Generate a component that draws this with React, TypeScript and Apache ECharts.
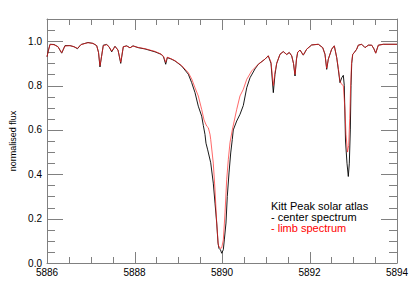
import React, { useEffect, useRef } from "react";
import * as echarts from "echarts";

const centerWavelength = [
  5886.000, 5886.034, 5886.069, 5886.160, 5886.251, 5886.336, 5886.411, 5886.526, 5886.617, 5886.697,
  5886.777, 5886.869, 5886.937, 5887.051, 5887.136, 5887.177, 5887.211, 5887.246, 5887.287, 5887.365,
  5887.417, 5887.479, 5887.554, 5887.623, 5887.685, 5887.744, 5887.822, 5887.897, 5887.966, 5888.080,
  5888.240, 5888.469, 5888.606, 5888.663, 5888.713, 5888.750, 5888.834, 5888.926, 5889.079, 5889.230,
  5889.307, 5889.383, 5889.458, 5889.536, 5889.573, 5889.611, 5889.634, 5889.673, 5889.742, 5889.801,
  5889.840, 5889.879, 5889.909, 5889.931, 5889.966, 5889.993, 5890.030, 5890.053, 5890.091, 5890.121,
  5890.160, 5890.199, 5890.235, 5890.258, 5890.336, 5890.411, 5890.487, 5890.565, 5890.640, 5890.754,
  5890.830, 5890.983, 5891.058, 5891.120, 5891.173, 5891.211, 5891.250, 5891.326, 5891.401, 5891.479,
  5891.538, 5891.593, 5891.634, 5891.669, 5891.703, 5891.730, 5891.783, 5891.858, 5891.936, 5892.050,
  5892.201, 5892.302, 5892.354, 5892.393, 5892.430, 5892.507, 5892.567, 5892.622, 5892.658, 5892.697,
  5892.736, 5892.773, 5892.795, 5892.823, 5892.857, 5892.887, 5892.910, 5892.933, 5892.949, 5892.965,
  5892.987, 5893.024, 5893.079, 5893.115, 5893.193, 5893.269, 5893.344, 5893.422, 5893.474, 5893.513,
  5893.573, 5893.687, 5893.840, 5894.000,
];

const centerFlux = [
  0.93, 0.96, 0.986, 0.985, 0.975, 0.946, 0.98, 0.98, 0.975, 0.966,
  0.985, 0.99, 0.994, 0.99, 0.98, 0.95, 0.884, 0.93, 0.982, 0.985,
  0.975, 0.952, 0.977, 0.96, 0.90, 0.975, 0.979, 0.97, 0.979, 0.971,
  0.965, 0.952, 0.941, 0.93, 0.896, 0.926, 0.92, 0.911, 0.888, 0.851,
  0.813, 0.768, 0.707, 0.662, 0.62, 0.58, 0.54, 0.51, 0.452, 0.36,
  0.27, 0.18, 0.09, 0.066, 0.059, 0.044, 0.06, 0.104, 0.18, 0.30,
  0.406, 0.496, 0.557, 0.60, 0.64, 0.67, 0.71, 0.79, 0.835, 0.875,
  0.896, 0.919, 0.934, 0.90, 0.768, 0.85, 0.90, 0.941, 0.953, 0.94,
  0.949, 0.934, 0.90, 0.843, 0.92, 0.95, 0.96, 0.937, 0.964, 0.983,
  0.986, 0.971, 0.941, 0.873, 0.919, 0.964, 0.979, 0.926, 0.873, 0.813,
  0.835, 0.846, 0.80, 0.55, 0.45, 0.39, 0.45, 0.60, 0.80, 0.90,
  0.94, 0.949, 0.964, 0.982, 0.986, 0.971, 0.982, 0.982, 0.965, 0.946,
  0.982, 0.986, 0.986, 0.986,
];

const limbWavelength = [
  5886.000, 5886.034, 5886.069, 5886.160, 5886.251, 5886.336, 5886.411, 5886.526, 5886.617, 5886.697,
  5886.777, 5886.869, 5886.937, 5887.051, 5887.136, 5887.177, 5887.211, 5887.246, 5887.287, 5887.365,
  5887.417, 5887.479, 5887.554, 5887.623, 5887.685, 5887.744, 5887.822, 5887.897, 5887.966, 5888.080,
  5888.240, 5888.469, 5888.606, 5888.663, 5888.713, 5888.750, 5888.834, 5888.926, 5889.079, 5889.230,
  5889.307, 5889.383, 5889.458, 5889.536, 5889.589, 5889.650, 5889.687, 5889.726, 5889.742, 5889.801,
  5889.840, 5889.879, 5889.915, 5889.954, 5889.993, 5890.030, 5890.069, 5890.107, 5890.144, 5890.183,
  5890.235, 5890.336, 5890.411, 5890.487, 5890.565, 5890.679, 5890.830, 5890.983, 5891.058, 5891.120,
  5891.173, 5891.211, 5891.250, 5891.326, 5891.401, 5891.479, 5891.538, 5891.593, 5891.634, 5891.669,
  5891.703, 5891.730, 5891.783, 5891.858, 5891.936, 5892.050, 5892.201, 5892.302, 5892.354, 5892.393,
  5892.430, 5892.507, 5892.567, 5892.622, 5892.658, 5892.697, 5892.736, 5892.773, 5892.811, 5892.834,
  5892.869, 5892.896, 5892.919, 5892.937, 5892.960, 5892.987, 5893.024, 5893.079, 5893.115, 5893.193,
  5893.269, 5893.344, 5893.422, 5893.474, 5893.513, 5893.573, 5893.687, 5893.840, 5894.000,
];

const limbFlux = [
  0.93, 0.96, 0.985, 0.984, 0.975, 0.948, 0.978, 0.98, 0.975, 0.968,
  0.984, 0.99, 0.993, 0.99, 0.98, 0.95, 0.89, 0.93, 0.98, 0.984,
  0.975, 0.955, 0.976, 0.96, 0.905, 0.975, 0.978, 0.97, 0.978, 0.972,
  0.966, 0.954, 0.942, 0.932, 0.905, 0.928, 0.921, 0.912, 0.89, 0.858,
  0.83, 0.79, 0.753, 0.692, 0.645, 0.617, 0.61, 0.58, 0.557, 0.45,
  0.33, 0.18, 0.081, 0.066, 0.068, 0.104, 0.226, 0.375, 0.466, 0.543,
  0.60, 0.692, 0.753, 0.783, 0.828, 0.866, 0.896, 0.919, 0.934, 0.905,
  0.80, 0.86, 0.90, 0.941, 0.953, 0.94, 0.949, 0.934, 0.90, 0.85,
  0.92, 0.95, 0.96, 0.938, 0.964, 0.983, 0.986, 0.971, 0.941, 0.878,
  0.919, 0.964, 0.979, 0.926, 0.88, 0.82, 0.805, 0.80, 0.69, 0.58,
  0.50, 0.53, 0.65, 0.78, 0.90, 0.94, 0.949, 0.964, 0.982, 0.986,
  0.971, 0.982, 0.982, 0.965, 0.946, 0.982, 0.986, 0.986, 0.986,
];

const xMin = 5886;
const xMax = 5894;
const xMajor = 2;
const yMin = 0;
const yMax = 1.1;
const yMajor = 0.2;

// tick values (inward ticks on all four sides)
const xMajorTicks = [5888, 5890, 5892];
const xMinorTicks = [5886.5, 5887, 5887.5, 5888.5, 5889, 5889.5, 5890.5, 5891, 5891.5, 5892.5, 5893, 5893.5];
const yMajorTicks = [0.2, 0.4, 0.6, 0.8, 1.0];
const yMinorTicks = [0.05, 0.1, 0.15, 0.25, 0.3, 0.35, 0.45, 0.5, 0.55, 0.65, 0.7, 0.75, 0.85, 0.9, 0.95, 1.05];

const legendLines = ["Kitt Peak solar atlas", "- center spectrum", "- limb spectrum"];

const AXIS_COLOR = "#808080";
const FONT = "'Liberation Sans', Arial, sans-serif";

function pairs(xs: number[], ys: number[]) {
  const n = Math.min(xs.length, ys.length);
  const out: number[][] = [];
  for (let i = 0; i < n; i++) out.push([xs[i], ys[i]]);
  return out;
}

function tickSeries(values: number[], dir: "x" | "y", len: number) {
  return {
    type: "custom",
    xAxisIndex: 0,
    yAxisIndex: 0,
    silent: true,
    clip: false,
    z: 3,
    data: values.map((v) => (dir === "x" ? [v, yMin] : [xMin, v])),
    renderItem: (_params: any, api: any) => {
      const style = { stroke: AXIS_COLOR, lineWidth: 1, fill: null };
      if (dir === "x") {
        const v = api.value(0);
        const b = api.coord([v, yMin]);
        const t = api.coord([v, yMax]);
        const x = Math.round(b[0]) + 0.5;
        return {
          type: "group",
          children: [
            { type: "line", shape: { x1: x, y1: b[1], x2: x, y2: b[1] - len }, style },
            { type: "line", shape: { x1: x, y1: t[1], x2: x, y2: t[1] + len }, style },
          ],
        };
      }
      const v = api.value(1);
      const l = api.coord([xMin, v]);
      const r = api.coord([xMax, v]);
      const y = Math.round(l[1]) + 0.5;
      return {
        type: "group",
        children: [
          { type: "line", shape: { x1: l[0], y1: y, x2: l[0] + len, y2: y }, style },
          { type: "line", shape: { x1: r[0], y1: y, x2: r[0] - len, y2: y }, style },
        ],
      };
    },
  };
}

function xAxisDef(position: "top" | "bottom", labels: boolean) {
  return {
    type: "value",
    min: xMin,
    max: xMax,
    interval: xMajor,
    position,
    axisLine: { show: true, onZero: false, lineStyle: { color: AXIS_COLOR } },
    axisTick: { show: false },
    minorTick: { show: false },
    axisLabel: {
      show: labels,
      color: "#000",
      fontSize: 10,
      fontFamily: FONT,
      margin: 4,
      formatter: (v: number) => String(Math.round(v)),
    },
    splitLine: { show: false },
  };
}

function yAxisDef(position: "left" | "right", labels: boolean) {
  const def: any = {
    type: "value",
    min: yMin,
    max: yMax,
    interval: yMajor,
    position,
    axisLine: { show: true, onZero: false, lineStyle: { color: AXIS_COLOR } },
    axisTick: { show: false },
    axisLabel: {
      show: labels,
      color: "#000",
      fontSize: 10,
      fontFamily: FONT,
      margin: 5,
      formatter: (v: number) => (v > 1.05 ? "" : v.toFixed(1)),
    },
    splitLine: { show: false },
  };
  if (labels) {
    def.name = "normalised flux";
    def.nameLocation = "middle";
    def.nameGap = 24;
    def.nameTextStyle = { color: "#000", fontSize: 9, fontFamily: FONT };
  }
  return def;
}

export default function App() {
  const ref = useRef<HTMLDivElement>(null);

  useEffect(() => {
    if (!ref.current) return;
    const chart = echarts.init(ref.current, undefined, { renderer: "svg" });
    chart.setOption({
      animation: false,
      grid: { left: 47, right: 18, top: 19, bottom: 21 },
      xAxis: [xAxisDef("bottom", true), xAxisDef("top", false)],
      yAxis: [yAxisDef("left", true), yAxisDef("right", false)],
      series: [
        tickSeries(xMajorTicks, "x", 11),
        tickSeries(xMinorTicks, "x", 6),
        tickSeries(yMajorTicks, "y", 16),
        tickSeries(yMinorTicks, "y", 8),
        {
          name: "center spectrum",
          type: "line",
          xAxisIndex: 0,
          yAxisIndex: 0,
          data: pairs(centerWavelength, centerFlux),
          showSymbol: false,
          lineStyle: { color: "#000", width: 0.9 },
          z: 4,
        },
        {
          name: "limb spectrum",
          type: "line",
          xAxisIndex: 0,
          yAxisIndex: 0,
          data: pairs(limbWavelength, limbFlux),
          showSymbol: false,
          lineStyle: { color: "#ff2020", width: 0.9, opacity: 0.75 },
          z: 4,
        },
      ],
      graphic: [
        {
          type: "text",
          left: 271,
          top: 200,
          style: { text: legendLines[0], fill: "#000", fontSize: 11, fontFamily: FONT },
        },
        {
          type: "text",
          left: 271,
          top: 211,
          style: { text: legendLines[1], fill: "#000", fontSize: 11, fontFamily: FONT },
        },
        {
          type: "text",
          left: 271,
          top: 222,
          style: { text: legendLines[2], fill: "#ff0000", fontSize: 11, fontFamily: FONT },
        },
      ],
    });
    return () => chart.dispose();
  }, []);

  return (
    <div
      ref={ref}
      style={{ position: "fixed", left: 0, top: 0, width: 415, height: 284, background: "#fff" }}
    />
  );
}
